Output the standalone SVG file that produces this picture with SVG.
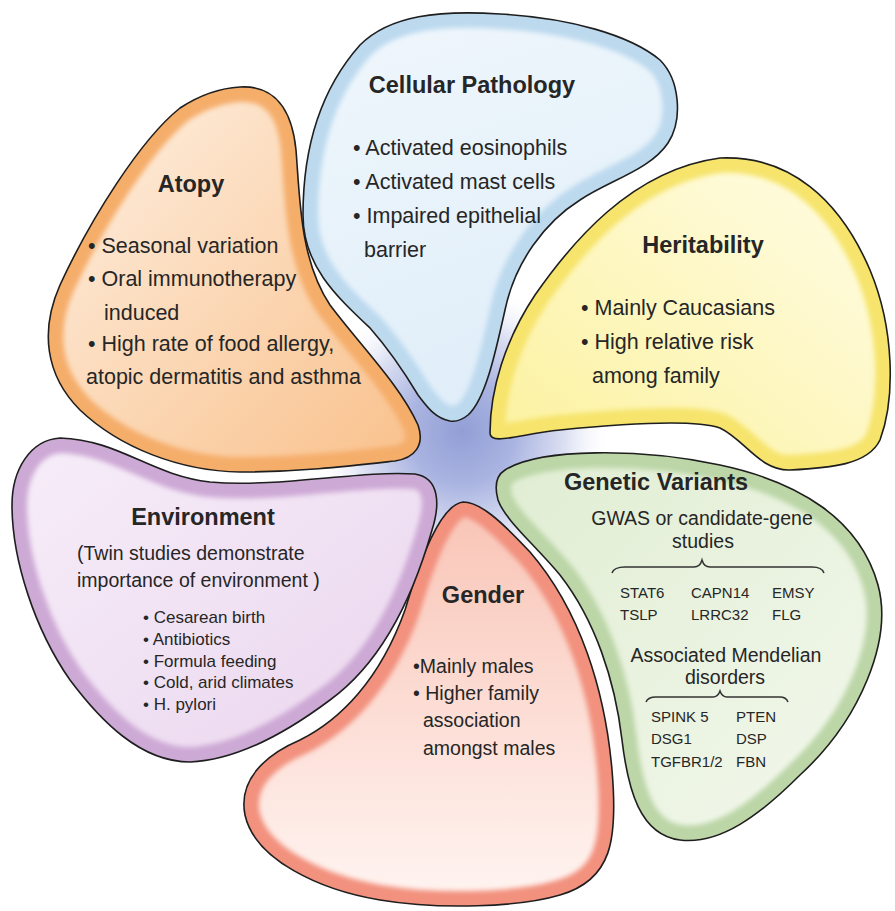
<svg xmlns="http://www.w3.org/2000/svg" xmlns:xlink="http://www.w3.org/1999/xlink" width="895" height="911" viewBox="0 0 895 911">
<style>
text{font-family:"Liberation Sans",Arial,sans-serif;fill:#262626}
.h{font-size:23.5px;font-weight:bold;text-anchor:middle}
.b{font-size:21.5px}
.m{font-size:19.5px}
.s{font-size:17px}
.g{font-size:15px}
.c{text-anchor:middle}
.ol{fill:none;stroke:#1e1e1e;stroke-width:1.6}
.band{stroke-width:30;filter:url(#soft)}
.br{fill:none;stroke:#333;stroke-width:1.5}
</style>
<defs>
<filter id="soft" x="-10%" y="-10%" width="120%" height="120%"><feGaussianBlur stdDeviation="2.5"/></filter>
<radialGradient id="hub" cx="462" cy="432" r="150" gradientUnits="userSpaceOnUse">
<stop offset="0" stop-color="#929fd6"/>
<stop offset="0.35" stop-color="#aab4e1"/>
<stop offset="0.7" stop-color="#dde1f3"/>
<stop offset="1" stop-color="#ffffff" stop-opacity="0"/>
</radialGradient>
<linearGradient id="gBlue" x1="0" y1="0" x2="0.3" y2="1"><stop offset="0" stop-color="#f0f7fc"/><stop offset="1" stop-color="#e0eef9"/></linearGradient>
<linearGradient id="gOrange" x1="0" y1="0" x2="1" y2="1"><stop offset="0" stop-color="#fef1e4"/><stop offset="1" stop-color="#f9c08a"/></linearGradient>
<linearGradient id="gYellow" x1="0" y1="1" x2="1" y2="0"><stop offset="0" stop-color="#fcf19c"/><stop offset="1" stop-color="#fffde8"/></linearGradient>
<linearGradient id="gGreen" x1="0" y1="0" x2="1" y2="1"><stop offset="0" stop-color="#e0edd2"/><stop offset="1" stop-color="#f3f8ed"/></linearGradient>
<linearGradient id="gRed" x1="0" y1="0" x2="0" y2="1"><stop offset="0" stop-color="#f9c4b6"/><stop offset="1" stop-color="#fff5f2"/></linearGradient>
<linearGradient id="gPurple" x1="0" y1="0" x2="1" y2="1"><stop offset="0" stop-color="#f7eef9"/><stop offset="1" stop-color="#ead5ee"/></linearGradient>
<path id="pBlue" d="M450,421 C435,418 428,408 418,395 C400,365 385,345 370,328 C335,295 303,265 303,215 C303,150 320,90 360,45 C390,15 440,10 500,14 C570,18 630,35 660,60 C680,80 683,120 668,143 C650,170 610,180 580,200 C545,222 515,262 505,310 C495,355 485,400 468,415 C462,420 456,422 450,421 Z"/>
<path id="pOrange" d="M240,87 C275,85 292,110 296,150 C300,200 300,260 330,305 C360,345 400,385 418,425 C425,445 415,458 395,461 C350,466 300,472 240,472 C180,471 120,448 80,410 C45,375 40,330 60,285 C90,220 140,140 180,108 C200,95 220,88 240,87 Z"/>
<path id="pYellow" d="M490,433 C490,390 505,340 535,295 C570,245 630,170 720,158 C790,155 840,200 870,270 C895,330 895,400 880,440 C868,465 830,468 790,470 C760,471 745,440 720,428 C690,418 610,425 560,430 C520,434 490,446 490,433 Z"/>
<path id="pGreen" d="M505,470 C540,448 640,448 720,465 C800,482 860,520 878,585 C893,640 860,720 800,775 C760,815 720,845 680,840 C640,835 628,790 622,740 C615,680 595,620 560,575 C535,545 505,520 498,500 C494,485 497,475 505,470 Z"/>
<path id="pRed" d="M463,502 C480,502 500,520 530,552 C580,610 605,690 612,770 C618,840 612,880 560,895 C520,907 440,910 380,900 C320,890 255,860 245,815 C238,780 265,755 300,740 C340,720 380,680 405,610 C420,560 440,505 463,502 Z"/>
<path id="pPurple" d="M60,438 C120,440 150,475 210,482 C280,488 360,470 415,474 C440,478 440,505 432,530 C415,590 385,660 330,700 C290,730 240,760 190,762 C140,762 100,720 70,680 C35,630 12,560 12,505 C12,470 30,440 60,438 Z"/>
<clipPath id="cBlue"><use xlink:href="#pBlue"/></clipPath>
<clipPath id="cOrange"><use xlink:href="#pOrange"/></clipPath>
<clipPath id="cYellow"><use xlink:href="#pYellow"/></clipPath>
<clipPath id="cGreen"><use xlink:href="#pGreen"/></clipPath>
<clipPath id="cRed"><use xlink:href="#pRed"/></clipPath>
<clipPath id="cPurple"><use xlink:href="#pPurple"/></clipPath>
</defs>
<rect width="895" height="911" fill="#ffffff"/>
<circle id="hub-center" cx="462" cy="432" r="150" fill="url(#hub)"/>

<g id="cellular-pathology">
<g clip-path="url(#cBlue)"><use xlink:href="#pBlue" fill="url(#gBlue)"/><use xlink:href="#pBlue" class="band" fill="none" stroke="#bcd9ee"/></g>
<use xlink:href="#pBlue" class="ol"/>
<text class="h" x="472" y="93">Cellular Pathology</text>
<text class="b" x="353" y="155">• Activated eosinophils</text>
<text class="b" x="353" y="189">• Activated mast cells</text>
<text class="b" x="353" y="223">• Impaired epithelial</text>
<text class="b" x="364" y="257">barrier</text>
</g>

<g id="atopy">
<g clip-path="url(#cOrange)"><use xlink:href="#pOrange" fill="url(#gOrange)"/><use xlink:href="#pOrange" class="band" fill="none" stroke="#f5ad6b"/></g>
<use xlink:href="#pOrange" class="ol"/>
<text class="h" x="191" y="192">Atopy</text>
<text class="b" x="88" y="253">• Seasonal variation</text>
<text class="b" x="88" y="286">• Oral immunotherapy</text>
<text class="b" x="104" y="320">induced</text>
<text class="b" x="88" y="351">• High rate of food allergy,</text>
<text class="b" x="86" y="384">atopic dermatitis and asthma</text>
</g>

<g id="heritability">
<g clip-path="url(#cYellow)"><use xlink:href="#pYellow" fill="url(#gYellow)"/><use xlink:href="#pYellow" class="band" fill="none" stroke="#f6e46c"/></g>
<use xlink:href="#pYellow" class="ol"/>
<text class="h" x="703" y="253">Heritability</text>
<text class="b" x="581" y="315">• Mainly Caucasians</text>
<text class="b" x="581" y="349">• High relative risk</text>
<text class="b" x="592" y="383">among family</text>
</g>

<g id="genetic-variants">
<g clip-path="url(#cGreen)"><use xlink:href="#pGreen" fill="url(#gGreen)"/><use xlink:href="#pGreen" class="band" fill="none" stroke="#bcd6a7"/></g>
<use xlink:href="#pGreen" class="ol"/>
<text class="h" x="656" y="490">Genetic Variants</text>
<text class="m c" x="702" y="525">GWAS or candidate-gene</text>
<text class="m c" x="703" y="548">studies</text>
<path class="br" d="M612,573 Q614,567 625,567 L694,567 Q700,567 702,560 Q704,567 710,567 L812,567 Q822,567 824,573"/>
<text class="g" x="620" y="598">STAT6</text>
<text class="g" x="691" y="598">CAPN14</text>
<text class="g" x="772" y="598">EMSY</text>
<text class="g" x="620" y="620">TSLP</text>
<text class="g" x="691" y="620">LRRC32</text>
<text class="g" x="772" y="620">FLG</text>
<text class="m c" x="726" y="662">Associated Mendelian</text>
<text class="m c" x="725" y="684">disorders</text>
<path class="br" d="M646,702 Q648,697 656,697 L713,697 Q718,697 720,691 Q722,697 727,697 L780,697 Q786,697 788,702"/>
<text class="g" x="651" y="722">SPINK 5</text>
<text class="g" x="736" y="722">PTEN</text>
<text class="g" x="651" y="744">DSG1</text>
<text class="g" x="736" y="744">DSP</text>
<text class="g" x="651" y="767">TGFBR1/2</text>
<text class="g" x="736" y="767">FBN</text>
</g>

<g id="gender">
<g clip-path="url(#cRed)"><use xlink:href="#pRed" fill="url(#gRed)"/><use xlink:href="#pRed" class="band" fill="none" stroke="#f2917e"/></g>
<use xlink:href="#pRed" class="ol"/>
<text class="h" x="483" y="603">Gender</text>
<text class="m" x="413" y="673">•Mainly males</text>
<text class="m" x="413" y="700">• Higher family</text>
<text class="m" x="423" y="727">association</text>
<text class="m" x="423" y="755">amongst males</text>
</g>

<g id="environment">
<g clip-path="url(#cPurple)"><use xlink:href="#pPurple" fill="url(#gPurple)"/><use xlink:href="#pPurple" class="band" fill="none" stroke="#cda9d5"/></g>
<use xlink:href="#pPurple" class="ol"/>
<text class="h" x="203" y="525">Environment</text>
<text class="m" x="77" y="560">(Twin studies demonstrate</text>
<text class="m" x="77" y="587">importance of environment )</text>
<text class="s" x="143" y="623">• Cesarean birth</text>
<text class="s" x="143" y="645">• Antibiotics</text>
<text class="s" x="143" y="667">• Formula feeding</text>
<text class="s" x="143" y="688">• Cold, arid climates</text>
<text class="s" x="143" y="710">• H. pylori</text>
</g>
</svg>
